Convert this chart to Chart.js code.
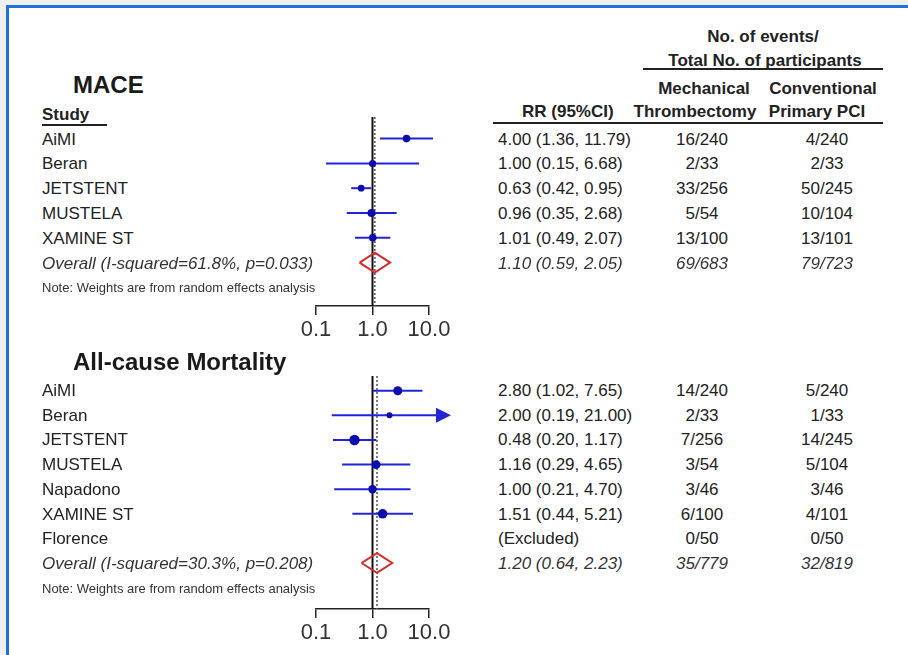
<!DOCTYPE html>
<html>
<head>
<meta charset="utf-8">
<script src="https://cdn.jsdelivr.net/npm/chart.js@4"></script>
<style>
  html, body { margin: 0; padding: 0; }
  body { width: 908px; height: 655px; background: #efefef; position: relative; overflow: hidden;
         font-family: "Liberation Sans", Arial, sans-serif; }
  #panel { position: absolute; left: 6px; top: 5px; width: 910px; height: 660px; background: #fff;
           border-left: 3px solid #1f6fdc; border-top: 3px solid #1f6fdc; }
  .txt { position: absolute; white-space: nowrap; font-size: 17px; line-height: 1; color: #222; }
  .b { font-weight: bold; }
  .big { font-size: 24px; font-weight: bold; color: #1a1a1a; }
  .i { font-style: italic; color: #333; }
  .note { font-size: 13px; color: #333; }
  .rule { position: absolute; height: 2px; background: #222; }
  canvas { position: absolute; }
</style>
</head>
<body>
<div id="panel"></div>
<canvas id="maceChart" width="240" height="250" style="left:240px; top:100px;"></canvas>
<canvas id="mortChart" width="240" height="295" style="left:240px; top:360px;"></canvas>
<script>
// ---------- data ----------
const xTicks = [0.1, 1, 10];
const xTickLabels = ['0.1', '1.0', '10.0'];

// MACE
const maceStudies = ['AiMI', 'Beran', 'JETSTENT', 'MUSTELA', 'XAMINE ST'];
const maceRR = [4.00, 1.00, 0.63, 0.96, 1.01];
const maceLo = [1.36, 0.15, 0.42, 0.35, 0.49];
const maceHi = [11.79, 6.68, 0.95, 2.68, 2.07];
const maceMech = ['16/240', '2/33', '33/256', '5/54', '13/100'];
const maceConv = ['4/240', '2/33', '50/245', '10/104', '13/101'];
const maceOverall = [1.10, 0.59, 2.05];
const maceOverallLabel = 'Overall (I-squared=61.8%, p=0.033)';
const maceOverallMech = '69/683';
const maceOverallConv = '79/723';

// All-cause mortality
const mortStudies = ['AiMI', 'Beran', 'JETSTENT', 'MUSTELA', 'Napadono', 'XAMINE ST', 'Florence'];
const mortRR = [2.80, 2.00, 0.48, 1.16, 1.00, 1.51, null];
const mortLo = [1.02, 0.19, 0.20, 0.29, 0.21, 0.44, null];
const mortHi = [7.65, 21.00, 1.17, 4.65, 4.70, 5.21, null];
const mortMech = ['14/240', '2/33', '7/256', '3/54', '3/46', '6/100', '0/50'];
const mortConv = ['5/240', '1/33', '14/245', '5/104', '3/46', '4/101', '0/50'];
const mortOverall = [1.20, 0.64, 2.23];
const mortOverallLabel = 'Overall (I-squared=30.3%, p=0.208)';
const mortOverallMech = '35/779';
const mortOverallConv = '32/819';

const noteText = 'Note: Weights are from random effects analysis';

// ---------- styles ----------
const maceRadius = [3.8, 3.5, 3.4, 4, 3.8];
const mortRadius = [4.5, 3, 5.2, 4.4, 4.2, 4.8, 0];
const arrowMax = 20;   // right end of the plotted range; CIs past it get an arrow
const ciColor = '#2323d8';
const dotColor = '#0d0dae';
const diamondColor = '#d42a2a';

function fmt(v) { return v.toFixed(2); }

// ---------- text ----------
function put(text, x, y, cls, center) {
  const d = document.createElement('div');
  d.className = 'txt ' + (cls || '');
  d.textContent = text;
  d.style.left = x + 'px';
  d.style.top = y + 'px';
  d.style.transform = center ? 'translate(-50%,-50%)' : 'translate(0,-50%)';
  document.body.appendChild(d);
}
function rule(x1, x2, y) {
  const d = document.createElement('div');
  d.className = 'rule';
  d.style.left = x1 + 'px';
  d.style.width = (x2 - x1) + 'px';
  d.style.top = y + 'px';
  document.body.appendChild(d);
}

// header
put('No. of events/', 763, 36, 'b', true);
put('Total No. of participants', 765, 60, 'b', true);
rule(643, 883, 68);
put('Mechanical', 704, 88, 'b', true);
put('Conventional', 823, 88, 'b', true);
put('RR (95%CI)', 522, 111, 'b');
put('Thrombectomy', 695, 111, 'b', true);
put('Primary PCI', 817, 111, 'b', true);
rule(493, 883, 122);
put('MACE', 73, 85, 'big');
put('Study', 42, 114, 'b');
rule(42, 107, 124);
put('All-cause Mortality', 73, 362, 'big');

function table(studies, rr, lo, hi, mech, conv, overall, overallLabel, oMech, oConv, y0, step) {
  studies.forEach((s, i) => {
    const y = y0 + i * step;
    put(s, 42, y);
    put(rr[i] == null ? '(Excluded)' : fmt(rr[i]) + ' (' + fmt(lo[i]) + ', ' + fmt(hi[i]) + ')', 498, y);
    put(mech[i], 702, y, '', true);
    put(conv[i], 827, y, '', true);
  });
  const yo = y0 + studies.length * step;
  put(overallLabel, 42, yo, 'i');
  put(fmt(overall[0]) + ' (' + fmt(overall[1]) + ', ' + fmt(overall[2]) + ')', 498, yo, 'i');
  put(oMech, 702, yo, 'i', true);
  put(oConv, 827, yo, 'i', true);
  put(noteText, 42, yo + step, 'note');
}
table(maceStudies, maceRR, maceLo, maceHi, maceMech, maceConv, maceOverall, maceOverallLabel,
      maceOverallMech, maceOverallConv, 138.5, 24.8);
table(mortStudies, mortRR, mortLo, mortHi, mortMech, mortConv, mortOverall, mortOverallLabel,
      mortOverallMech, mortOverallConv, 390, 24.7);

// ---------- charts ----------
const arrowPlugin = {
  id: 'arrows',
  afterDatasetsDraw(chart, args, opts) {
    const ctx = chart.ctx, xs = chart.scales.x, ys = chart.scales.y;
    const hi = opts.hi || [];
    for (let i = 0; i < hi.length; i++) {
      const h = hi[i];
      if (h == null || h <= arrowMax) continue;
      const end = xs.getPixelForValue(arrowMax);
      const y = ys.getPixelForValue(i);
      ctx.save();
      ctx.fillStyle = ciColor;
      ctx.beginPath();
      ctx.moveTo(end + 5, y);
      ctx.lineTo(end - 10, y - 7.5);
      ctx.lineTo(end - 10, y + 7.5);
      ctx.closePath();
      ctx.fill();
      ctx.restore();
    }
  }
};

function drawForest(canvasId, rr, lo, hi, radius, overall, yMin, yMax, pad, axisHeight) {
  const n = rr.length;
  const datasets = [];

  // study estimates
  datasets.push({
    data: rr.map((v, i) => v == null ? null : { x: v, y: i }).filter(p => p),
    pointRadius: radius.filter((r, i) => rr[i] != null),
    pointBackgroundColor: dotColor,
    pointBorderWidth: 0,
    showLine: false,
    clip: false
  });

  // confidence intervals
  for (let i = 0; i < n; i++) {
    if (rr[i] == null) continue;
    datasets.push({
      data: [{ x: lo[i], y: i }, { x: Math.min(hi[i], arrowMax), y: i }],
      borderColor: ciColor,
      borderWidth: 2,
      pointRadius: 0,
      showLine: true,
      clip: false
    });
  }

  // overall diamond
  const yo = n;
  datasets.push({
    data: [
      { x: overall[1], y: yo }, { x: overall[0], y: yo - 0.4 },
      { x: overall[2], y: yo }, { x: overall[0], y: yo + 0.4 },
      { x: overall[1], y: yo }
    ],
    borderColor: diamondColor,
    borderWidth: 2,
    pointRadius: 0,
    showLine: true,
    clip: false
  });

  // dashed line at overall effect
  datasets.push({
    data: [{ x: overall[0], y: yMin }, { x: overall[0], y: yMax }],
    borderColor: '#555',
    borderWidth: 1.5,
    borderDash: [2, 2],
    pointRadius: 0,
    showLine: true
  });

  // null line at RR = 1
  datasets.push({
    data: [{ x: 1, y: yMin }, { x: 1, y: yMax }],
    borderColor: '#111',
    borderWidth: 2,
    pointRadius: 0,
    showLine: true
  });

  return new Chart(document.getElementById(canvasId), {
    type: 'scatter',
    data: { datasets: datasets },
    plugins: [arrowPlugin],
    options: {
      responsive: false,
      animation: false,
      events: [],
      layout: { padding: pad },
      plugins: {
        legend: { display: false },
        tooltip: { enabled: false },
        arrows: { hi: hi }
      },
      scales: {
        x: {
          type: 'logarithmic',
          min: xTicks[0],
          max: xTicks[xTicks.length - 1],
          afterBuildTicks: scale => { scale.ticks = xTicks.map(v => ({ value: v })); },
          afterFit: scale => { scale.height = axisHeight; },
          ticks: {
            autoSkip: false,
            maxRotation: 0,
            padding: 2,
            color: '#333',
            font: { family: "'Liberation Sans', Arial, sans-serif", size: 22 },
            callback: (v) => xTickLabels[xTicks.indexOf(v)]
          },
          grid: { drawOnChartArea: false, drawTicks: true, tickLength: 9, color: '#222', lineWidth: 1.5 },
          border: { display: true, color: '#222', width: 1.5 }
        },
        y: {
          type: 'linear',
          min: yMin,
          max: yMax,
          reverse: true,
          display: false
        }
      }
    }
  });
}

drawForest('maceChart', maceRR, maceLo, maceHi, maceRadius, maceOverall,
           -0.87, 6.75, { left: 76, right: 51, top: 17, bottom: 0 }, 44);
drawForest('mortChart', mortRR, mortLo, mortHi, mortRadius, mortOverall,
           -0.6, 8.87, { left: 76, right: 51, top: 16, bottom: 0 }, 46);
</script>
</body>
</html>
